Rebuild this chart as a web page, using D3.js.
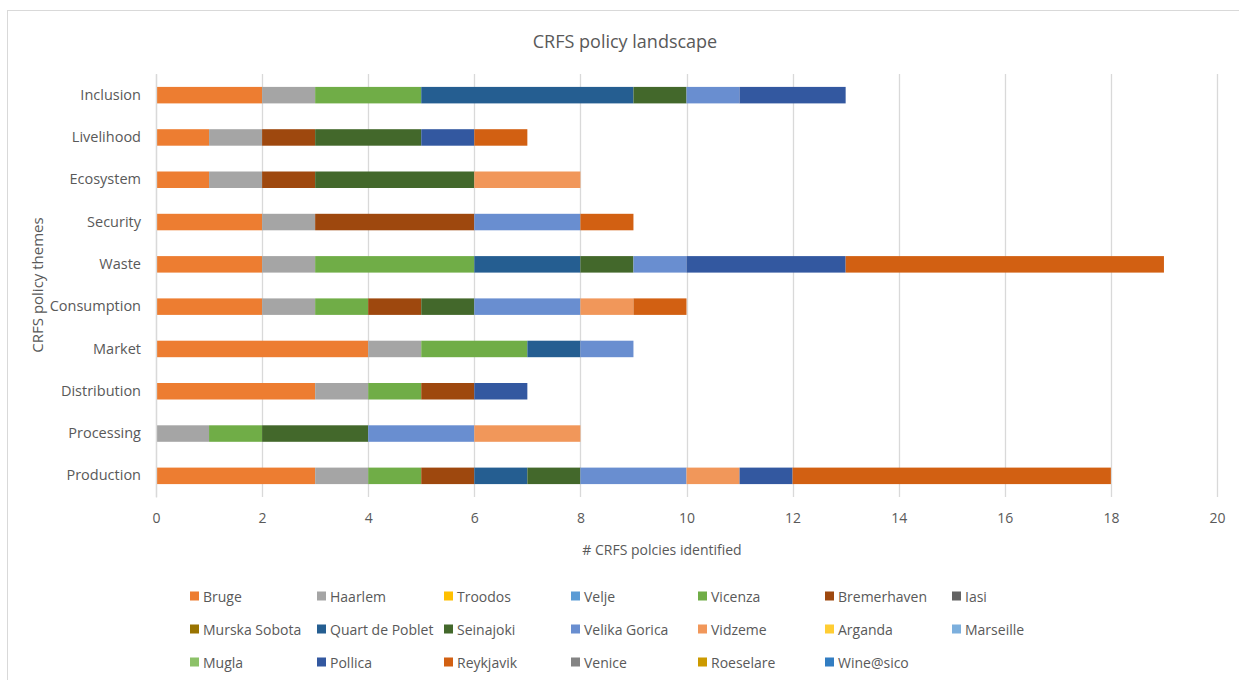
<!DOCTYPE html>
<html>
<head>
<meta charset="utf-8">
<script src="https://cdn.jsdelivr.net/npm/d3@7"></script>
<style>
  html, body { margin: 0; padding: 0; background: #ffffff; }
  svg { display: block; font-family: "Open Sans", "Noto Sans", sans-serif; }
</style>
</head>
<body>
<svg id="chart" width="1239" height="680"></svg>
<script>
// Policy themes, listed top to bottom as drawn
const themes = ["Inclusion", "Livelihood", "Ecosystem", "Security", "Waste",
                "Consumption", "Market", "Distribution", "Processing", "Production"];

// Number of policies per city, one value per theme (same order as themes)
const Bruge          = [2, 1, 1, 2, 2, 2, 4, 3, 0, 3];
const Haarlem        = [1, 1, 1, 1, 1, 1, 1, 1, 1, 1];
const Troodos        = [0, 0, 0, 0, 0, 0, 0, 0, 0, 0];
const Velje          = [0, 0, 0, 0, 0, 0, 0, 0, 0, 0];
const Vicenza        = [2, 0, 0, 0, 3, 1, 2, 1, 1, 1];
const Bremerhaven    = [0, 1, 1, 3, 0, 1, 0, 1, 0, 1];
const Iasi           = [0, 0, 0, 0, 0, 0, 0, 0, 0, 0];
const MurskaSobota   = [0, 0, 0, 0, 0, 0, 0, 0, 0, 0];
const QuartDePoblet  = [4, 0, 0, 0, 2, 0, 1, 0, 0, 1];
const Seinajoki      = [1, 2, 3, 0, 1, 1, 0, 0, 2, 1];
const VelikaGorica   = [1, 0, 0, 2, 1, 2, 1, 0, 2, 2];
const Vidzeme        = [0, 0, 2, 0, 0, 1, 0, 0, 2, 1];
const Arganda        = [0, 0, 0, 0, 0, 0, 0, 0, 0, 0];
const Marseille      = [0, 0, 0, 0, 0, 0, 0, 0, 0, 0];
const Mugla          = [0, 0, 0, 0, 0, 0, 0, 0, 0, 0];
const Pollica        = [2, 1, 0, 0, 3, 0, 0, 1, 0, 1];
const Reykjavik      = [0, 1, 0, 1, 6, 1, 0, 0, 0, 6];
const Venice         = [0, 0, 0, 0, 0, 0, 0, 0, 0, 0];
const Roeselare      = [0, 0, 0, 0, 0, 0, 0, 0, 0, 0];
const WineSico       = [0, 0, 0, 0, 0, 0, 0, 0, 0, 0];

const cityNames = ["Bruge", "Haarlem", "Troodos", "Velje", "Vicenza", "Bremerhaven", "Iasi",
                   "Murska Sobota", "Quart de Poblet", "Seinajoki", "Velika Gorica", "Vidzeme",
                   "Arganda", "Marseille", "Mugla", "Pollica", "Reykjavik", "Venice",
                   "Roeselare", "Wine@sico"];
const cityValues = [Bruge, Haarlem, Troodos, Velje, Vicenza, Bremerhaven, Iasi,
                    MurskaSobota, QuartDePoblet, Seinajoki, VelikaGorica, Vidzeme,
                    Arganda, Marseille, Mugla, Pollica, Reykjavik, Venice,
                    Roeselare, WineSico];
const cityColors = ["#ED7D31", "#A5A5A5", "#FFC000", "#5B9BD5", "#70AD47", "#9E480E", "#636363",
                    "#997300", "#255E91", "#43682B", "#698ED0", "#F1975A",
                    "#FFCD33", "#7CAFDD", "#8CC168", "#3358A0", "#D26012", "#848484",
                    "#CC9A00", "#327DC2"];

const xTicks = [0, 2, 4, 6, 8, 10, 12, 14, 16, 18, 20];

// Build table rows: one per theme, one column per city
const rows = themes.map((t, i) => {
  const r = { theme: t };
  cityNames.forEach((c, j) => { r[c] = cityValues[j][i]; });
  return r;
});

const svg = d3.select("#chart");
const textColor = "#595959";
const gridColor = "#D9D9D9";

// Chart frame
svg.append("rect")
  .attr("x", 7.5).attr("y", 10.5)
  .attr("width", 1260).attr("height", 700)
  .attr("fill", "#ffffff")
  .attr("stroke", gridColor).attr("stroke-width", 1);

const plot = { left: 156, right: 1217, top: 74, bottom: 497 };

const x = d3.scaleLinear().domain([0, 20]).range([plot.left, plot.right]);
const y = d3.scaleBand().domain(themes).range([plot.top, plot.bottom])
  .paddingInner(0.61).paddingOuter(0.305);
const color = d3.scaleOrdinal().domain(cityNames).range(cityColors);

// Vertical gridlines
svg.append("g")
  .selectAll("line")
  .data(xTicks)
  .join("line")
  .attr("x1", d => Math.round(x(d)) + 0.5).attr("x2", d => Math.round(x(d)) + 0.5)
  .attr("y1", plot.top).attr("y2", plot.bottom)
  .attr("stroke", gridColor).attr("stroke-width", 1.3);

// Stacked bars
const series = d3.stack().keys(cityNames)(rows);
svg.append("g")
  .selectAll("g")
  .data(series)
  .join("g")
  .attr("fill", d => color(d.key))
  .selectAll("rect")
  .data(d => d.filter(s => s[1] > s[0]))
  .join("rect")
  .attr("x", d => x(d[0]))
  .attr("width", d => x(d[1]) - x(d[0]))
  .attr("y", d => y(d.data.theme))
  .attr("height", y.bandwidth());

// X axis (labels only)
const xAxis = svg.append("g")
  .attr("transform", `translate(0,${plot.bottom})`)
  .call(d3.axisBottom(x).tickValues(xTicks).tickSize(0).tickPadding(16));
xAxis.select(".domain").remove();
xAxis.selectAll("text")
  .attr("fill", textColor).style("font-size", "14px")
  .style("font-family", "'Open Sans', sans-serif");

// Y axis
const yAxis = svg.append("g")
  .attr("transform", `translate(${plot.left},0)`)
  .call(d3.axisLeft(y).tickSize(0).tickPadding(15));
yAxis.select(".domain")
  .attr("stroke", gridColor).attr("stroke-width", 1.3);
yAxis.selectAll("text")
  .attr("fill", textColor).style("font-size", "14.5px")
  .style("font-family", "'Open Sans', sans-serif");

// Title
svg.append("text")
  .attr("x", 625).attr("y", 41)
  .attr("text-anchor", "middle").attr("dominant-baseline", "central")
  .attr("fill", textColor).style("font-size", "18px")
  .text("CRFS policy landscape");

// Axis titles
svg.append("text")
  .attr("x", 662).attr("y", 549)
  .attr("text-anchor", "middle").attr("dominant-baseline", "central")
  .attr("fill", textColor).style("font-size", "14px")
  .text("# CRFS polcies identified");

svg.append("text")
  .attr("transform", "translate(37,285) rotate(-90)")
  .attr("text-anchor", "middle").attr("dominant-baseline", "central")
  .attr("fill", textColor).style("font-size", "15px")
  .text("CRFS policy themes");

// Legend: 7 columns, 3 rows
const legend = svg.append("g");
const legendItems = legend.selectAll("g")
  .data(cityNames)
  .join("g")
  .attr("transform", (d, i) => `translate(${190 + (i % 7) * 127},${596 + Math.floor(i / 7) * 33})`);
legendItems.append("rect")
  .attr("x", 0).attr("y", -4.5)
  .attr("width", 9).attr("height", 9)
  .attr("fill", d => color(d));
legendItems.append("text")
  .attr("x", 13).attr("y", 0)
  .attr("dominant-baseline", "central")
  .attr("fill", textColor).style("font-size", "14px")
  .text(d => d);
</script>
</body>
</html>
